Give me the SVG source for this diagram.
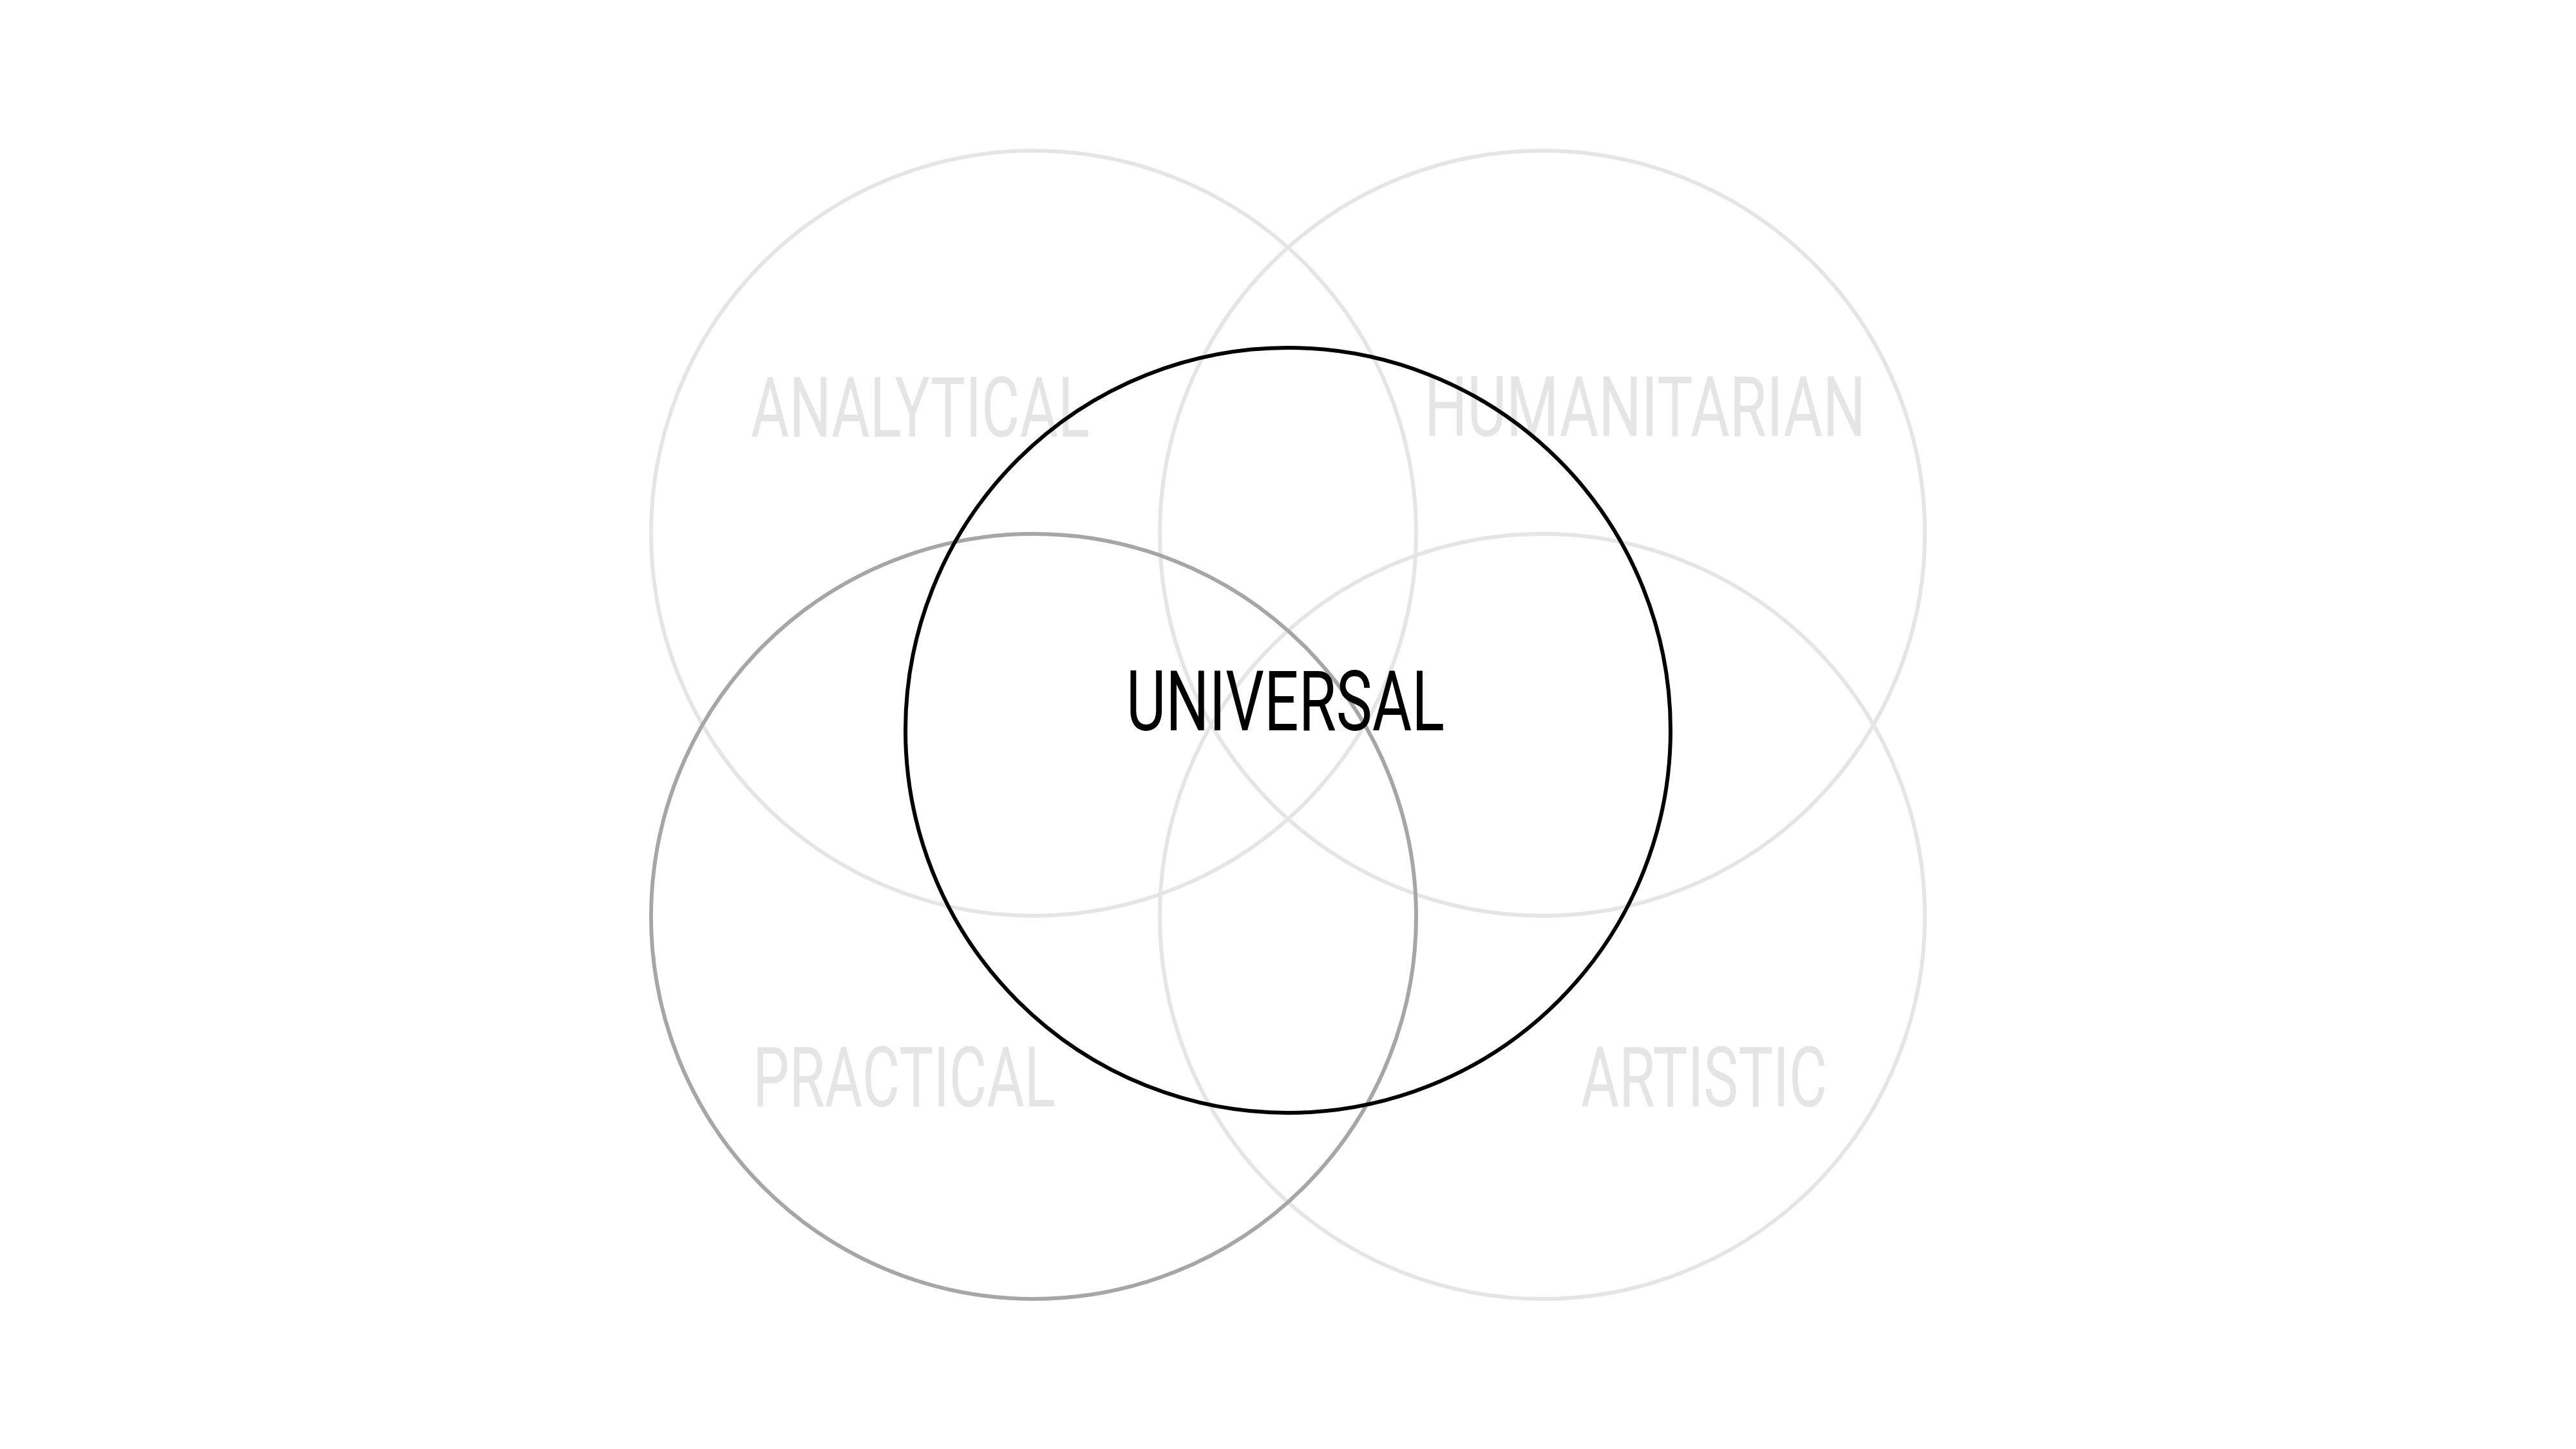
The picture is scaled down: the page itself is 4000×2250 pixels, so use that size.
<svg xmlns="http://www.w3.org/2000/svg" width="4000" height="2250" viewBox="0 0 4000 2250">
  <style>
    .ring { fill: none; stroke-width: 6; }
    .light { stroke: #e5e5e5; }
    .mid { stroke: #a6a6a6; }
    .dark { stroke: #000000; }
    .lbl { font-family: Roboto, "Liberation Sans", sans-serif; font-size: 130px; font-weight: 400; }
    .lbl-light { fill: #e5e5e5; }
    .lbl-dark { fill: #000000; }
  </style>
  <rect width="4000" height="2250" fill="#ffffff"/>
  <g id="node-analytical">
    <text class="lbl lbl-light" x="1166" y="678" textLength="526" lengthAdjust="spacingAndGlyphs">ANALYTICAL</text>
    <circle class="ring light" cx="1605" cy="828" r="594"/>
  </g>
  <g id="node-humanitarian">
    <text class="lbl lbl-light" x="2212" y="677" textLength="685" lengthAdjust="spacingAndGlyphs">HUMANITARIAN</text>
    <circle class="ring light" cx="2395" cy="828" r="594"/>
  </g>
  <g id="node-artistic">
    <text class="lbl lbl-light" x="2455" y="1718" textLength="382" lengthAdjust="spacingAndGlyphs">ARTISTIC</text>
    <circle class="ring light" cx="2395" cy="1423" r="594"/>
  </g>
  <g id="node-practical">
    <text class="lbl lbl-light" x="1169" y="1718" textLength="470" lengthAdjust="spacingAndGlyphs">PRACTICAL</text>
    <circle class="ring mid" cx="1605" cy="1423" r="594"/>
  </g>
  <g id="node-universal">
    <text class="lbl lbl-dark" x="1749" y="1134" textLength="494" lengthAdjust="spacingAndGlyphs">UNIVERSAL</text>
    <circle class="ring dark" cx="2000" cy="1134" r="594"/>
  </g>
  <g id="connectors"/>
</svg>
